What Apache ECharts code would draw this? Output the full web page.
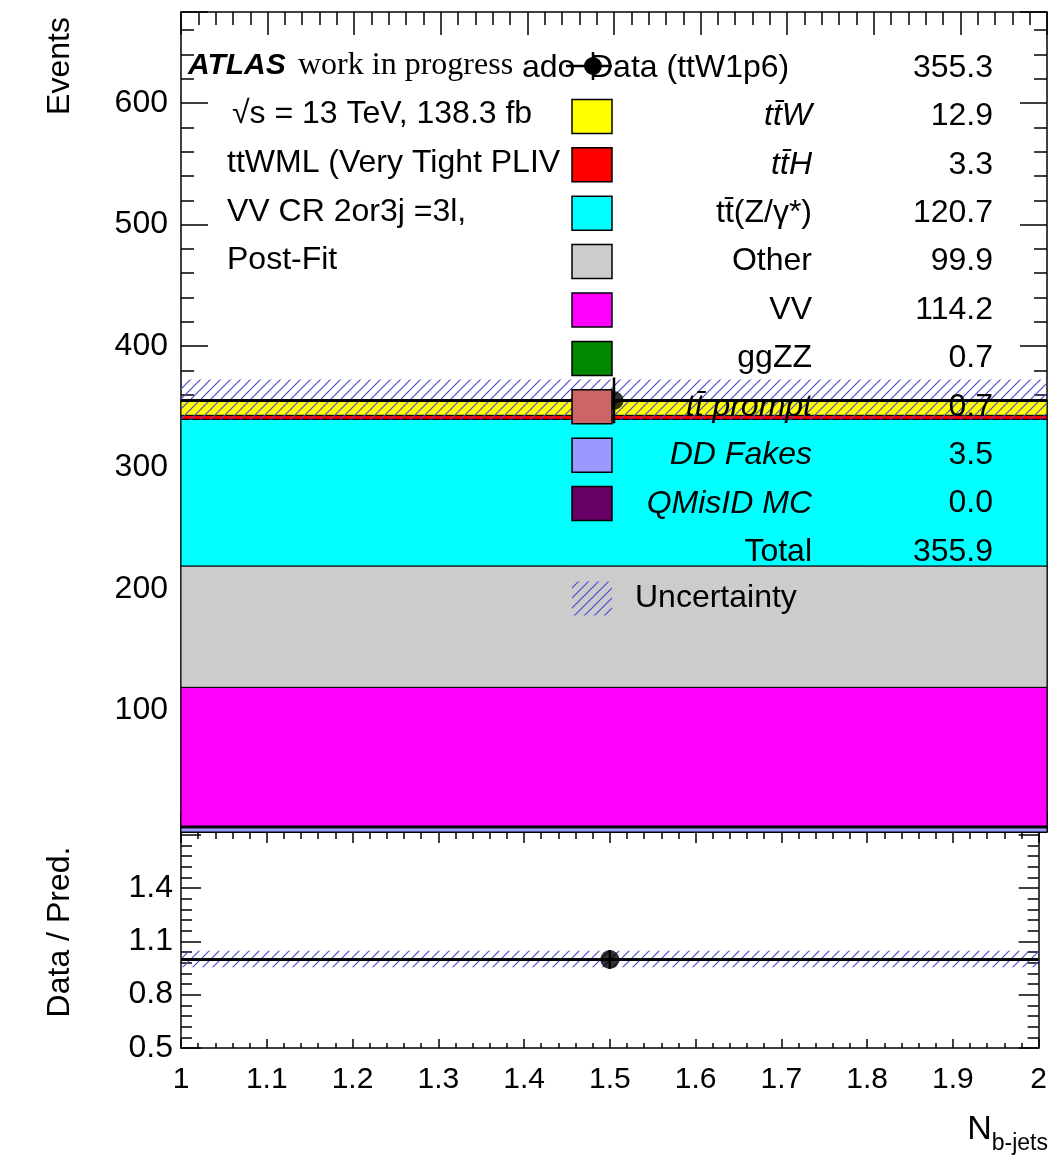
<!DOCTYPE html>
<html>
<head>
<meta charset="utf-8">
<script src="https://cdn.jsdelivr.net/npm/echarts@6/dist/echarts.min.js"></script>
<style>
    html, body { margin: 0; padding: 0; background: #fff; }
    #chart { width: 1050px; height: 1158px; }
</style>
</head>
<body>
<div id="chart"></div>
<script>
    // bin edges (N_b-jets)
    const binEdges = [1, 2];

    // stack components, legend order (top of stack first)
    const sampleNames = ['tt\u0304W', 'tt\u0304H', 'tt\u0304(Z/\u03b3*)', 'Other', 'VV', 'ggZZ', 'tt\u0304 prompt', 'DD Fakes', 'QMisID MC'];
    const sampleYields = [12.9, 3.3, 120.7, 99.9, 114.2, 0.7, 0.7, 3.5, 0.0];

    const dataName = 'Data (ttW1p6)';
    const dataYield = 355.3;
    const totalUncertainty = 16.5;

    // tick labels
    const yTickLabels = [100, 200, 300, 400, 500, 600];
    const ratioTickLabels = ['0.5', '0.8', '1.1', '1.4'];
    const xTickLabels = ['1', '1.1', '1.2', '1.3', '1.4', '1.5', '1.6', '1.7', '1.8', '1.9', '2'];

    // styles
    const sampleColors = ['#ffff00', '#ff0000', '#00ffff', '#cccccc', '#ff00ff', '#008800', '#cc6666', '#9999ff', '#660066'];
    const sampleItalic = [true, true, false, false, false, false, true, true, true];
    const FONT = '"Liberation Sans", Arial, sans-serif';

    // hatch pattern for the uncertainty band
    function hatch() {
        const c = document.createElement('canvas');
        c.width = 10; c.height = 10;
        const g = c.getContext('2d');
        g.strokeStyle = '#4b4bd2';
        g.lineWidth = 1.2;
        g.beginPath();
        g.moveTo(0, 10); g.lineTo(10, 0);
        g.moveTo(-1, 1); g.lineTo(1, -1);
        g.moveTo(9, 11); g.lineTo(11, 9);
        g.stroke();
        return { image: c, repeat: 'repeat' };
    }
    const hatchFill = hatch();

    const total = sampleYields.reduce((a, b) => a + b, 0);
    const binCenter = (binEdges[0] + binEdges[1]) / 2;

    // stack, built from the bottom
    const stackData = [];
    let cum = 0;
    for (let i = sampleYields.length - 1; i >= 0; i--) {
        stackData.push({
            value: [binEdges[0], binEdges[1], cum, cum + sampleYields[i]],
            itemStyle: { color: sampleColors[i] }
        });
        cum += sampleYields[i];
    }

    const ratio = dataYield / total;
    const ratioErr = Math.sqrt(dataYield) / total;
    const ratioUnc = totalUncertainty / total;

    function rectItem(params, api) {
        const p0 = api.coord([api.value(0), api.value(3)]);
        const p1 = api.coord([api.value(1), api.value(2)]);
        return {
            type: 'rect',
            shape: { x: p0[0], y: p0[1], width: p1[0] - p0[0], height: p1[1] - p0[1] },
            style: { fill: api.visual('color'), stroke: '#000', lineWidth: 1 }
        };
    }

    function hatchItem(params, api) {
        const p0 = api.coord([api.value(0), api.value(3)]);
        const p1 = api.coord([api.value(1), api.value(2)]);
        return {
            type: 'rect',
            shape: { x: p0[0], y: p0[1], width: p1[0] - p0[0], height: p1[1] - p0[1] },
            style: { fill: hatchFill, stroke: null }
        };
    }

    // data: horizontal bar over the bin + vertical stat error
    function errItem(params, api) {
        const a = api.coord([api.value(0), api.value(2)]);
        const b = api.coord([api.value(1), api.value(2)]);
        const c = api.coord([(api.value(0) + api.value(1)) / 2, api.value(2) + api.value(3)]);
        const d = api.coord([(api.value(0) + api.value(1)) / 2, api.value(2) - api.value(3)]);
        return {
            type: 'group',
            children: [
                { type: 'line', shape: { x1: a[0], y1: a[1], x2: b[0], y2: b[1] }, style: { stroke: '#000', lineWidth: 3 } },
                { type: 'line', shape: { x1: c[0], y1: c[1], x2: d[0], y2: d[1] }, style: { stroke: '#000', lineWidth: 2.5 } }
            ]
        };
    }

    const axisLine = { show: true, onZero: false, lineStyle: { color: '#000', width: 1.5 } };
    const tickStyle = { color: '#000', width: 1.5 };

    function xAxis(grid, pos, major, minor, labels) {
        return {
            type: 'value', gridIndex: grid, position: pos, min: binEdges[0], max: binEdges[1], interval: 0.1,
            axisLine: axisLine,
            axisTick: { show: true, inside: true, length: major, lineStyle: tickStyle },
            minorTick: { show: true, splitNumber: 5, length: minor, lineStyle: tickStyle },
            splitLine: { show: false },
            axisLabel: {
                show: labels, margin: 17, color: '#000', fontFamily: FONT, fontSize: 30,
                formatter: v => { const s = String(Math.round(v * 10) / 10); return xTickLabels.includes(s) ? s : ''; }
            }
        };
    }

    function yAxis(grid, pos, min, max, interval, major, minor, labels, fmt, margin) {
        return {
            type: 'value', gridIndex: grid, position: pos, min: min, max: max, interval: interval,
            axisLine: axisLine,
            axisTick: { show: true, inside: true, length: major, lineStyle: tickStyle },
            minorTick: { show: true, splitNumber: 5, length: minor, lineStyle: tickStyle },
            splitLine: { show: false },
            axisLabel: { show: labels, margin: margin, color: '#000', fontFamily: FONT, fontSize: 32, formatter: fmt }
        };
    }

    // legend and texts
    const graphics = [];
    function txt(x, y, text, opts, rot) {
        graphics.push({
            type: 'text', x: x, y: y, z: 100, rotation: rot || 0,
            style: Object.assign({ text: text, fill: '#000', font: '32px ' + FONT, align: 'left', verticalAlign: 'middle' }, opts || {})
        });
    }

    txt(60, 66, 'Events', { align: 'center' }, Math.PI / 2);
    txt(60, 932, 'Data / Pred.', { align: 'center' }, Math.PI / 2);

    txt(188, 66, 'ATLAS', { font: 'italic bold 30px ' + FONT });
    txt(298, 66, 'work in progress', { font: '32px "Liberation Serif", "Times New Roman", serif' });
    txt(522, 68, 'ado', {});
    txt(232, 114, '\u221as = 13 TeV, 138.3 fb', {});
    txt(227, 163, 'ttWML (Very Tight PLIV', {});
    txt(227, 212, 'VV CR 2or3j =3l,', {});
    txt(227, 260, 'Post-Fit', {});

    const rowY = i => 68 + 48.4 * i;
    const boxX = 572, boxW = 40, boxH = 34, labelR = 812, valueR = 993;

    // data row
    graphics.push({ type: 'line', z: 100, shape: { x1: 566, y1: rowY(0) - 2, x2: 612, y2: rowY(0) - 2 }, style: { stroke: '#000', lineWidth: 2.5 } });
    graphics.push({ type: 'line', z: 100, shape: { x1: 593, y1: rowY(0) - 16, x2: 593, y2: rowY(0) + 12 }, style: { stroke: '#000', lineWidth: 2.5 } });
    graphics.push({ type: 'circle', z: 100, shape: { cx: 593, cy: rowY(0) - 2, r: 9 }, style: { fill: '#000' } });
    txt(590, rowY(0), dataName, {});
    txt(valueR, rowY(0), dataYield.toFixed(1), { align: 'right' });

    for (let i = 0; i < sampleNames.length; i++) {
        const y = rowY(i + 1);
        graphics.push({
            type: 'rect', z: 100,
            shape: { x: boxX, y: y - boxH / 2, width: boxW, height: boxH },
            style: { fill: sampleColors[i], stroke: '#000', lineWidth: 1.5 }
        });
        txt(labelR, y, sampleNames[i], { align: 'right', font: (sampleItalic[i] ? 'italic ' : '') + '32px ' + FONT });
        txt(valueR, y, sampleYields[i].toFixed(1), { align: 'right' });
    }
    const totalRow = rowY(sampleNames.length + 1);
    txt(labelR, totalRow, 'Total', { align: 'right' });
    txt(valueR, totalRow, total.toFixed(1), { align: 'right' });
    const uncRow = rowY(sampleNames.length + 2) - 2;
    graphics.push({ type: 'rect', z: 100, shape: { x: boxX, y: uncRow - boxH / 2, width: boxW, height: boxH }, style: { fill: hatchFill } });
    txt(635, uncRow, 'Uncertainty', {});

    // x-axis title
    graphics.push({
        type: 'text', z: 100, x: 1048, y: 1147,
        style: {
            text: '{n|N}{s|b-jets}', align: 'right', verticalAlign: 'bottom', fill: '#000',
            rich: {
                n: { fontFamily: FONT, fontSize: 34, fill: '#000', verticalAlign: 'bottom' },
                s: { fontFamily: FONT, fontSize: 23, fill: '#000', verticalAlign: 'bottom', padding: [0, 0, -8, 0] }
            }
        }
    });

    const chart = echarts.init(document.getElementById('chart'), null, { renderer: 'canvas' });
    chart.setOption({
        animation: false,
        backgroundColor: '#fff',
        grid: [
            { left: 181, top: 12, width: 866, height: 820 },
            { left: 181, top: 832, width: 866, height: 216 }
        ],
        xAxis: [
            xAxis(0, 'bottom', 19, 8, false),
            xAxis(0, 'top', 23, 13, false),
            xAxis(1, 'bottom', 9, 5, true),
            xAxis(1, 'top', 11, 7, false)
        ],
        yAxis: [
            yAxis(0, 'left', 0, 675, 100, 27, 13, true, v => (yTickLabels.includes(v) ? String(v) : ''), 13),
            yAxis(0, 'right', 0, 675, 100, 27, 13, false, null, 8),
            yAxis(1, 'left', 0.5, 1.715, 0.3, 20, 11, true, v => { const s = v.toFixed(1); return ratioTickLabels.includes(s) ? s : ''; }, 8),
            yAxis(1, 'right', 0.5, 1.715, 0.3, 20, 11, false, null, 8)
        ],
        graphic: graphics,
        series: [
            {
                type: 'custom', name: 'stack', xAxisIndex: 0, yAxisIndex: 0, z: 1,
                renderItem: rectItem, data: stackData
            },
            {
                type: 'custom', name: 'unc', xAxisIndex: 0, yAxisIndex: 0, z: 2,
                renderItem: hatchItem,
                data: [[binEdges[0], binEdges[1], total - totalUncertainty, total + totalUncertainty]]
            },
            {
                type: 'custom', name: 'dataErr', xAxisIndex: 0, yAxisIndex: 0, z: 3,
                renderItem: errItem,
                data: [[binEdges[0], binEdges[1], dataYield, Math.sqrt(dataYield)]]
            },
            {
                type: 'scatter', name: 'data', xAxisIndex: 0, yAxisIndex: 0, z: 4,
                symbol: 'circle', symbolSize: 19, itemStyle: { color: '#000' },
                data: [[binCenter, dataYield]]
            },
            {
                type: 'custom', name: 'ratioUnc', xAxisIndex: 2, yAxisIndex: 2, z: 2,
                renderItem: hatchItem,
                data: [[binEdges[0], binEdges[1], 1 - ratioUnc, 1 + ratioUnc]]
            },
            {
                type: 'custom', name: 'ratioErr', xAxisIndex: 2, yAxisIndex: 2, z: 3,
                renderItem: errItem,
                data: [[binEdges[0], binEdges[1], ratio, ratioErr]]
            },
            {
                type: 'scatter', name: 'ratio', xAxisIndex: 2, yAxisIndex: 2, z: 4,
                symbol: 'circle', symbolSize: 19, itemStyle: { color: '#000' },
                data: [[binCenter, ratio]]
            }
        ]
    });
</script>
</body>
</html>
